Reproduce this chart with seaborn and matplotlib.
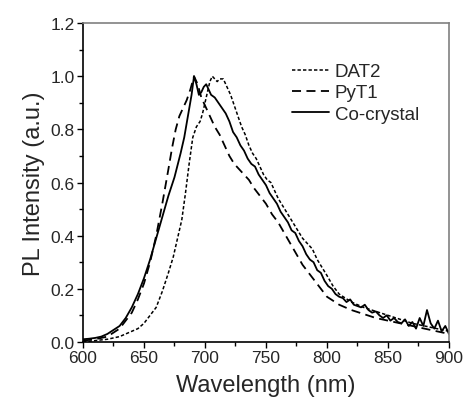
import numpy as np
import pandas as pd
import matplotlib
matplotlib.use("Agg")
import matplotlib.pyplot as plt
from matplotlib.ticker import MultipleLocator
import seaborn as sns

# ----- data -----
dat2_wl = [600, 610, 620, 630, 640, 645, 650, 655, 660, 665, 670, 674, 678, 681, 684, 687,
           690, 693, 696, 698, 700, 702, 704, 706, 708, 710, 712, 715, 718, 721, 724, 727,
           730, 733, 736, 739, 742, 745, 748, 751, 754, 757, 760, 764, 768, 772, 776, 780,
           784, 788, 792, 796, 800, 805, 810, 815, 820, 830, 840, 850, 860, 870, 880, 890, 900]
dat2_pl = [0.00, 0.005, 0.01, 0.02, 0.04, 0.05, 0.07, 0.10, 0.13, 0.19, 0.26, 0.32, 0.40, 0.46, 0.56, 0.67,
           0.77, 0.81, 0.83, 0.86, 0.90, 0.94, 0.98, 1.00, 0.99, 0.98, 0.99, 0.99, 0.96, 0.93, 0.89, 0.85,
           0.81, 0.78, 0.74, 0.71, 0.69, 0.66, 0.63, 0.61, 0.60, 0.57, 0.54, 0.51, 0.48, 0.45, 0.42, 0.39,
           0.37, 0.35, 0.31, 0.28, 0.25, 0.21, 0.18, 0.165, 0.15, 0.13, 0.115, 0.10, 0.085, 0.07, 0.06, 0.05, 0.04]

pyt1_wl = [600, 610, 620, 630, 635, 640, 645, 650, 655, 660, 665, 670, 673, 676, 679, 682,
           685, 688, 691, 694, 697, 700, 704, 708, 712, 716, 720, 724, 728, 732, 736, 740,
           745, 750, 755, 760, 765, 770, 775, 780, 785, 790, 795, 800, 805, 810, 820, 830,
           840, 850, 860, 870, 880, 890, 900]
pyt1_pl = [0.005, 0.01, 0.02, 0.05, 0.08, 0.11, 0.16, 0.22, 0.30, 0.40, 0.52, 0.65, 0.73, 0.80, 0.85, 0.88,
           0.91, 0.95, 1.00, 0.97, 0.92, 0.89, 0.85, 0.81, 0.78, 0.74, 0.70, 0.67, 0.65, 0.63, 0.61, 0.58,
           0.55, 0.52, 0.48, 0.45, 0.41, 0.37, 0.33, 0.29, 0.26, 0.23, 0.20, 0.17, 0.155, 0.14, 0.12, 0.105,
           0.09, 0.08, 0.07, 0.06, 0.05, 0.04, 0.03]

co_wl = [600, 605, 610, 615, 620, 625, 630, 635, 640, 645, 650, 655, 660, 665, 670, 675,
         680, 683, 686, 689, 691, 693, 695, 697, 699, 701, 703, 705, 708, 711, 714, 717,
         720, 723, 726, 729, 732, 735, 738, 741, 744, 747, 750, 753, 756, 759, 762, 765,
         768, 771, 774, 777, 780, 783, 786, 789, 792, 795, 798, 801, 804, 807, 810, 813,
         816, 819, 822, 825, 828, 831, 834, 837, 840, 843, 846, 849, 852, 855, 858, 861,
         864, 867, 870, 873, 876, 879, 882, 885, 888, 891, 894, 897, 900]
co_pl = [0.01, 0.012, 0.015, 0.02, 0.03, 0.045, 0.06, 0.09, 0.13, 0.18, 0.24, 0.31, 0.39, 0.47, 0.55, 0.62,
         0.71, 0.77, 0.85, 0.93, 1.00, 0.97, 0.93, 0.94, 0.96, 0.97, 0.95, 0.93, 0.92, 0.90, 0.88, 0.86,
         0.83, 0.79, 0.77, 0.74, 0.72, 0.69, 0.67, 0.66, 0.63, 0.61, 0.59, 0.56, 0.54, 0.52, 0.49, 0.47,
         0.45, 0.42, 0.41, 0.38, 0.36, 0.33, 0.31, 0.30, 0.27, 0.26, 0.23, 0.21, 0.20, 0.18, 0.17, 0.165,
         0.15, 0.16, 0.14, 0.135, 0.13, 0.14, 0.12, 0.11, 0.115, 0.10, 0.09, 0.10, 0.08, 0.09, 0.075, 0.07,
         0.085, 0.06, 0.075, 0.05, 0.09, 0.06, 0.12, 0.07, 0.05, 0.08, 0.04, 0.06, 0.03]

# ----- plot -----
sns.set_style("ticks")
plt.rcParams["font.family"] = ["Liberation Sans", "DejaVu Sans"]

fig = plt.figure(figsize=(4.65, 4.02), dpi=100)
ax = fig.add_axes([0.1785, 0.147, 0.787, 0.793])

sns.lineplot(x=dat2_wl, y=dat2_pl, ax=ax, color="black", lw=1.1, ls=(0, (2.2, 1.4)), label="DAT2")
sns.lineplot(x=pyt1_wl, y=pyt1_pl, ax=ax, color="black", lw=1.3, ls=(0, (5, 3)), label="PyT1")
sns.lineplot(x=co_wl, y=co_pl, ax=ax, color="black", lw=1.3, label="Co-crystal")

ax.set_xlim(600, 900)
ax.set_ylim(0, 1.2)
ax.xaxis.set_major_locator(MultipleLocator(50))
ax.xaxis.set_minor_locator(MultipleLocator(25))
ax.yaxis.set_major_locator(MultipleLocator(0.2))
ax.yaxis.set_minor_locator(MultipleLocator(0.1))
ax.yaxis.set_major_formatter(matplotlib.ticker.FormatStrFormatter("%.1f"))
ax.tick_params(which="major", length=4, width=1, labelsize=12.5, pad=2, color="black")
ax.tick_params(which="minor", length=3, width=1, color="black")

for side in ["left", "bottom"]:
    ax.spines[side].set_color("black")
    ax.spines[side].set_linewidth(1.2)
for side in ["top", "right"]:
    ax.spines[side].set_color("#808080")
    ax.spines[side].set_linewidth(1.2)

ax.set_xlabel("Wavelength (nm)", fontsize=17, labelpad=6)
ax.set_ylabel("PL Intensity (a.u.)", fontsize=17, labelpad=4)

ax.legend(loc="upper left", bbox_to_anchor=(0.571, 0.875), frameon=False, fontsize=13.5,
          handlelength=2.0, handletextpad=0.27, labelspacing=0.22, borderaxespad=0, borderpad=0)

fig.savefig("out.png", dpi=100)
